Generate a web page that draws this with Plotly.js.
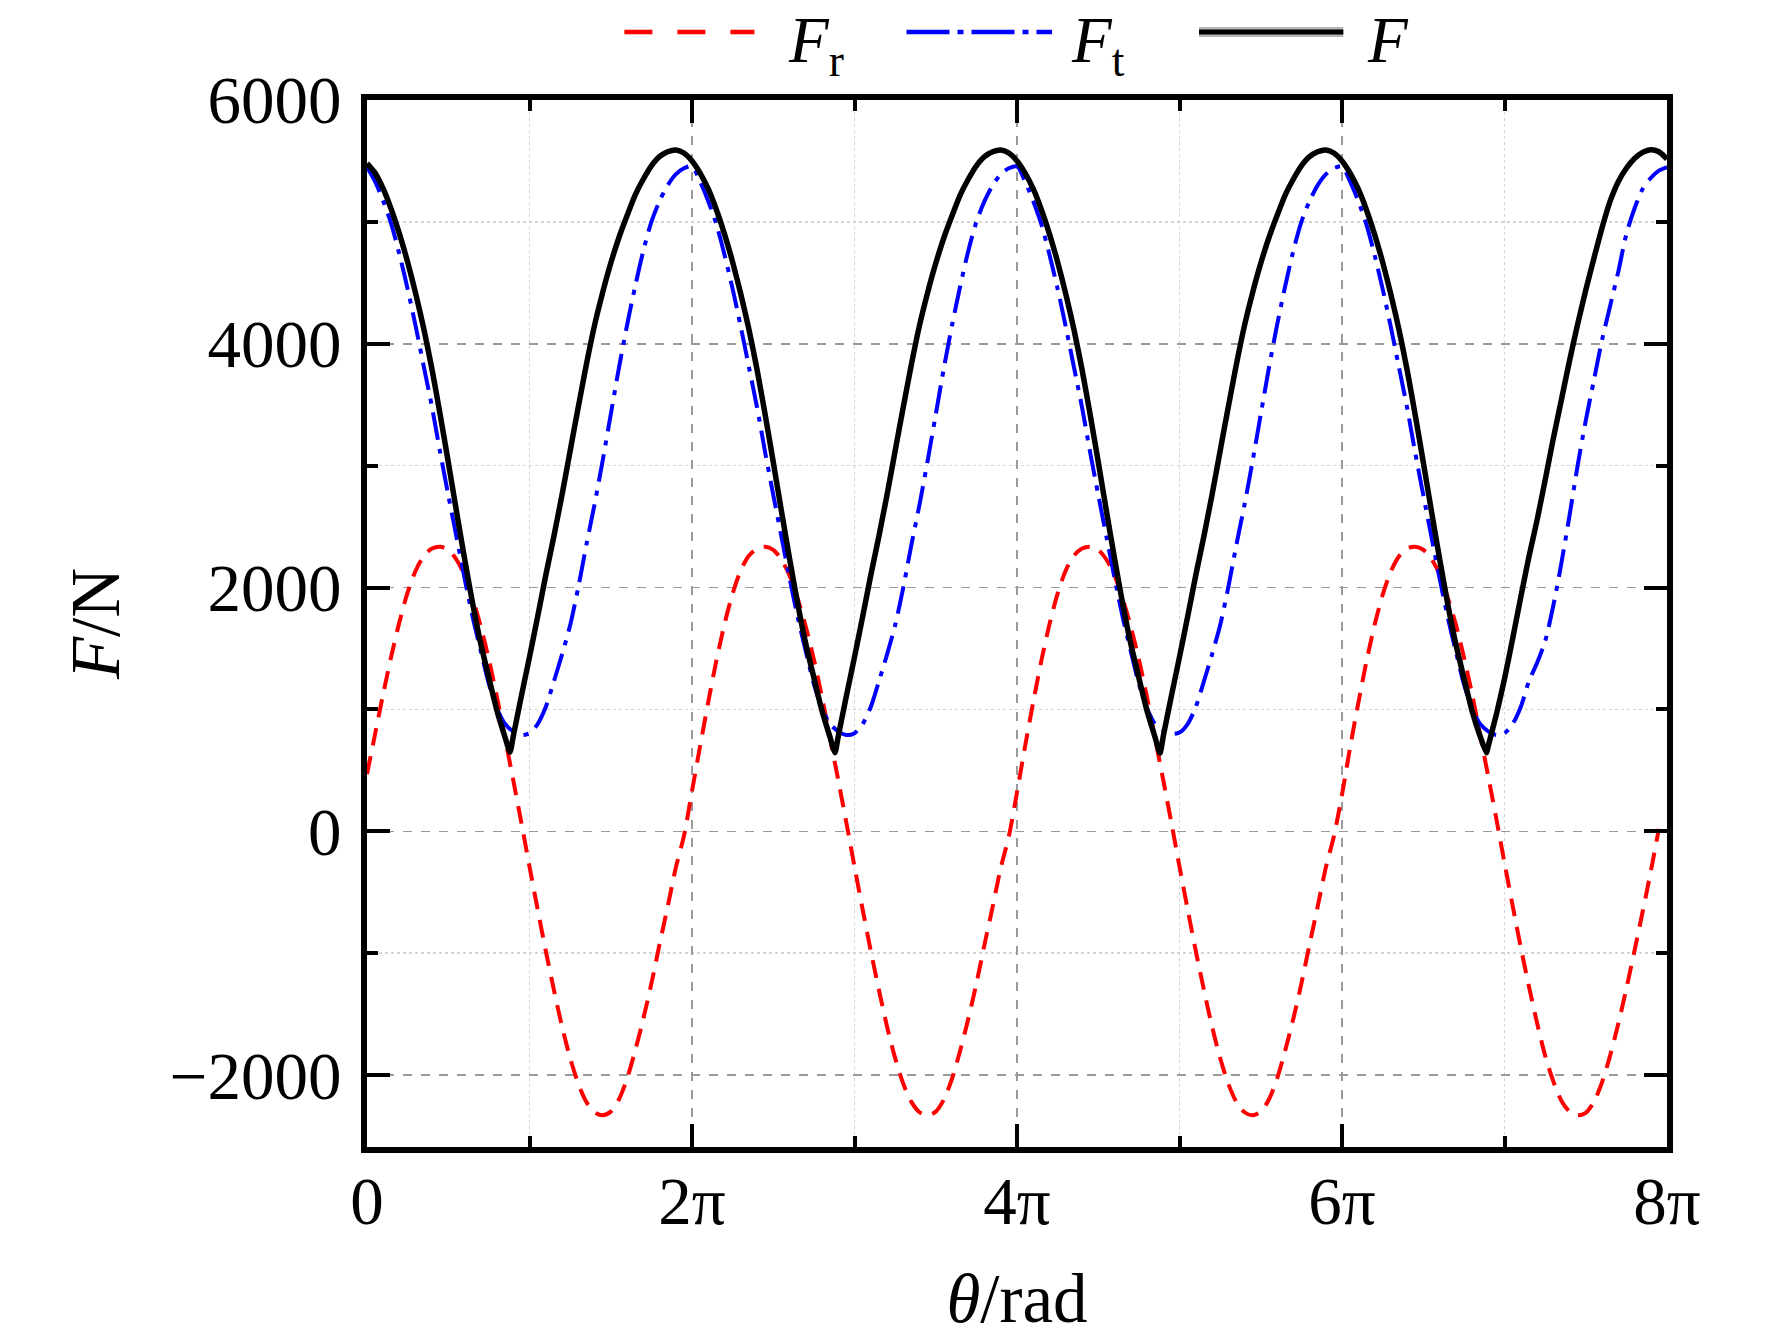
<!DOCTYPE html>
<html>
<head>
<meta charset="utf-8">
<script src="https://cdn.plot.ly/plotly-3.0.1.min.js"></script>
<style>
  body { margin: 0; background: #fff; }
  #chart { width: 1772px; height: 1338px; }
</style>
</head>
<body>
<div id="chart"></div>
<script>
var theta = [];
for (var i = 0; i <= 160; i++) {
  theta.push(+(i * 0.05).toFixed(2));
}

// F_r (radial force)
var frValues = [
  470, 800, 1130, 1440, 1720, 1960, 2140, 2260, 2320, 2335, 2310, 2230, 2100, 1910, 1680, 1410, 1100, 760, 420, 70,
  -290, -640, -980, -1300, -1600, -1860, -2070, -2220, -2305, -2330, -2300, -2200, -2030, -1800, -1540, -1250, -930, -620, -300, -40,
  330, 700, 1060, 1400, 1700, 1950, 2140, 2260, 2320, 2335, 2310, 2230, 2100, 1910, 1680, 1410, 1100, 760, 420, 70,
  -290, -640, -980, -1300, -1600, -1860, -2070, -2220, -2305, -2330, -2300, -2200, -2030, -1800, -1540, -1250, -930, -620, -300, -40,
  320, 700, 1060, 1400, 1700, 1950, 2140, 2260, 2320, 2335, 2310, 2230, 2100, 1910, 1680, 1410, 1100, 760, 420, 70,
  -290, -640, -980, -1300, -1600, -1860, -2070, -2220, -2305, -2330, -2300, -2200, -2030, -1800, -1540, -1250, -930, -620, -300, -40,
  300, 690, 1050, 1390, 1690, 1940, 2130, 2255, 2320, 2335, 2310, 2235, 2110, 1920, 1700, 1430, 1130, 790, 450, 100,
  -260, -610, -950, -1270, -1570, -1840, -2050, -2210, -2300, -2330, -2310, -2220, -2060, -1840, -1580, -1290, -980, -660, -330, 20
];

// F_t (tangential force)
var ftValues = [
  5450, 5330, 5170, 4980, 4730, 4450, 4140, 3810, 3480, 3110, 2760, 2420, 2080, 1760, 1480, 1210, 1010, 880, 820, 790,
  805, 880, 1020, 1230, 1450, 1690, 2000, 2350, 2680, 3040, 3420, 3800, 4150, 4470, 4760, 5000, 5170, 5300, 5390, 5440,
  5455, 5330, 5170, 4980, 4730, 4450, 4140, 3810, 3480, 3110, 2760, 2420, 2080, 1760, 1480, 1210, 1010, 880, 820, 790,
  805, 880, 1020, 1230, 1450, 1690, 2000, 2350, 2680, 3040, 3420, 3800, 4150, 4470, 4760, 5000, 5170, 5300, 5390, 5440,
  5455, 5330, 5170, 4980, 4730, 4450, 4140, 3810, 3480, 3110, 2760, 2420, 2080, 1760, 1480, 1210, 1010, 880, 830, 800,
  810, 880, 1020, 1230, 1450, 1690, 2000, 2350, 2680, 3040, 3420, 3800, 4150, 4470, 4760, 5000, 5170, 5300, 5390, 5440,
  5455, 5330, 5170, 4980, 4730, 4450, 4140, 3810, 3480, 3110, 2760, 2420, 2080, 1760, 1480, 1210, 1010, 880, 820, 790,
  805, 880, 1020, 1230, 1380, 1560, 1850, 2200, 2590, 3000, 3370, 3700, 4030, 4310, 4590, 4900, 5110, 5270, 5360, 5420,
  5450
];

// F (resultant force)
var fValues = [
  5480, 5400, 5270, 5100, 4900, 4670, 4410, 4120, 3790, 3420, 3030, 2630, 2240, 1870, 1540, 1260, 990, 770, 780, 1110,
  1430, 1760, 2100, 2420, 2760, 3120, 3480, 3830, 4150, 4420, 4660, 4870, 5050, 5220, 5350, 5460, 5535, 5575, 5590, 5565,
  5500, 5400, 5270, 5100, 4900, 4670, 4410, 4120, 3790, 3420, 3030, 2630, 2240, 1870, 1540, 1260, 990, 770, 780, 1110,
  1430, 1760, 2100, 2420, 2760, 3120, 3480, 3830, 4150, 4420, 4660, 4870, 5050, 5220, 5350, 5460, 5535, 5575, 5590, 5565,
  5500, 5400, 5270, 5100, 4900, 4670, 4410, 4120, 3790, 3420, 3030, 2630, 2240, 1870, 1540, 1260, 990, 770, 780, 1110,
  1430, 1760, 2100, 2420, 2760, 3120, 3480, 3830, 4150, 4420, 4660, 4870, 5050, 5220, 5350, 5460, 5535, 5575, 5590, 5565,
  5500, 5400, 5270, 5100, 4900, 4670, 4410, 4120, 3790, 3420, 3030, 2630, 2240, 1870, 1540, 1260, 990, 780, 700, 960,
  1250, 1580, 1920, 2250, 2550, 2880, 3220, 3540, 3860, 4160, 4440, 4700, 4950, 5170, 5330, 5440, 5520, 5570, 5592, 5575,
  5516
];

// sharp minima of F
var fMinTheta = [0.88, 2.88, 4.88, 6.89];
var fMinValue = [650, 645, 640, 645];

var xTickVals = [0, 2, 4, 6, 8];
var xTickText = ['0', '2π', '4π', '6π', '8π'];
var xMinorVals = [1, 3, 5, 7];
var yTickVals = [-2000, 0, 2000, 4000, 6000];
var yMinorVals = [-1000, 1000, 3000, 5000];

var legendNames = ['<i>F</i><sub>r</sub>', '<i>F</i><sub>t</sub>', '<i>F</i>'];

// merge the minima into the F series
var fPairs = [];
theta.forEach(function (t, k) { fPairs.push([t, fValues[k]]); });
fMinTheta.forEach(function (t, k) { fPairs.push([t, fMinValue[k]]); });
fPairs.sort(function (a, b) { return a[0] - b[0]; });

var FONT = 'Liberation Serif, Times New Roman, serif';

var traceFr = {
  x: theta, y: frValues, mode: 'lines', name: 'Fr',
  line: { color: '#ff0000', width: 4, dash: '18px,11px', shape: 'spline', smoothing: 0.8 }
};
var traceFt = {
  x: theta, y: ftValues, mode: 'lines', name: 'Ft',
  line: { color: '#0000ff', width: 4, dash: '28px,9px,5px,9px', shape: 'spline', smoothing: 0.8 }
};
var traceF = {
  x: fPairs.map(function (p) { return p[0]; }),
  y: fPairs.map(function (p) { return p[1]; }),
  mode: 'lines', name: 'F',
  line: { color: '#000000', width: 5.5, shape: 'spline', smoothing: 0.6 }
};

function axisBase() {
  return {
    ticks: 'inside', ticklen: 23, tickwidth: 4, tickcolor: '#000',
    showline: true, linewidth: 6, linecolor: '#000', mirror: 'allticks',
    showgrid: true, gridcolor: '#9a9a9a', gridwidth: 1.5, griddash: 'dash',
    zeroline: false,
    tickfont: { family: FONT, size: 67, color: '#000' }
  };
}

var xaxis = axisBase();
xaxis.range = [0, 8];
xaxis.tickmode = 'array';
xaxis.tickvals = xTickVals;
xaxis.ticktext = xTickText;
xaxis.ticklabelstandoff = -9;
xaxis.minor = {
  tickmode: 'array', tickvals: xMinorVals, ticks: 'inside', ticklen: 11, tickwidth: 4, tickcolor: '#000',
  showgrid: true, gridcolor: '#d4d4d4', gridwidth: 1.5, griddash: 'dot'
};
xaxis.title = { text: '<i>θ</i>/rad', standoff: 38, font: { family: FONT, size: 69, color: '#000' } };

var yaxis = axisBase();
yaxis.range = [-2590, 6000];
yaxis.tickmode = 'array';
yaxis.tickvals = yTickVals;
yaxis.ticklabelstandoff = 6;
yaxis.minor = {
  tickmode: 'array', tickvals: yMinorVals, ticks: 'inside', ticklen: 11, tickwidth: 4, tickcolor: '#000',
  showgrid: true, gridcolor: '#d4d4d4', gridwidth: 1.5, griddash: 'dot'
};
yaxis.title = { text: '<i>F</i>/N', standoff: 30, font: { family: FONT, size: 69, color: '#000' } };

// hand-made legend above the plot
var legY = 1.065;
var shapes = [
  { type: 'line', xref: 'paper', yref: 'paper', x0: 0.198, x1: 0.298, y0: legY, y1: legY,
    line: { color: '#ff0000', width: 4.5, dash: '28px,25px' } },
  { type: 'line', xref: 'paper', yref: 'paper', x0: 0.415, x1: 0.527, y0: legY, y1: legY,
    line: { color: '#0000ff', width: 4.5, dash: '43px,8px,6px,8px' } },
  { type: 'line', xref: 'paper', yref: 'paper', x0: 0.64, x1: 0.751, y0: legY, y1: legY,
    line: { color: '#b4b4b4', width: 10 } },
  { type: 'line', xref: 'paper', yref: 'paper', x0: 0.64, x1: 0.751, y0: legY, y1: legY,
    line: { color: '#000000', width: 5 } }
];
var legX = [0.322, 0.54, 0.768];
var annotations = legendNames.map(function (name, k) {
  return {
    xref: 'paper', yref: 'paper', x: legX[k], y: 1.094, xanchor: 'left', yanchor: 'top',
    text: name, showarrow: false, font: { family: FONT, size: 65, color: '#000' }
  };
});

var layout = {
  width: 1772, height: 1338,
  margin: { l: 367, r: 105, t: 100, b: 191 },
  paper_bgcolor: '#fff', plot_bgcolor: '#fff',
  showlegend: false,
  font: { family: FONT, size: 64, color: '#000' },
  xaxis: xaxis, yaxis: yaxis,
  shapes: shapes, annotations: annotations
};

Plotly.newPlot('chart', [traceFr, traceFt, traceF], layout, { staticPlot: true });
</script>
</body>
</html>
